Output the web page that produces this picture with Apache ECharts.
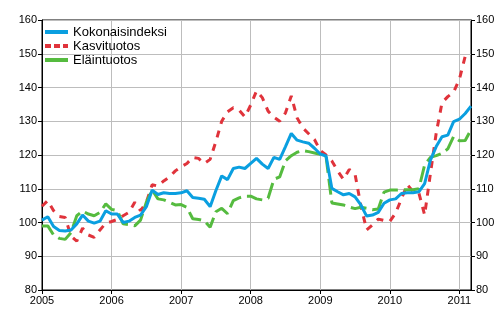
<!DOCTYPE html>
<html><head><meta charset="utf-8">
<script src="https://cdn.jsdelivr.net/npm/echarts@6/dist/echarts.min.js"></script>
<style>html,body{margin:0;padding:0;background:#fff}#c{width:500px;height:330px}</style>
</head><body><div id="c"></div>
<script>
const years = ['2005','2006','2007','2008','2009','2010','2011'];
const monthNames = ['01','02','03','04','05','06','07','08','09','10','11','12'];
const monthCount = 75;
const months = [];
years.forEach(y => monthNames.forEach(m => months.push(y + '-' + m)));
months.length = monthCount;

const seriesNames = ['Kokonaisindeksi', 'Kasvituotos', 'Eläintuotos'];

const kokonaisindeksi = [
 100.7, 101.7, 98.8, 97.6, 97.5, 97.8, 99.6, 102.2, 100.4, 99.8, 100.4, 103.5,
 102.5, 102.5, 100.0, 100.4, 101.5, 102.2, 104.7, 109.6, 108.3, 108.8, 108.6, 108.6,
 108.8, 109.4, 107.4, 107.2, 106.9, 104.7, 109.5, 113.8, 112.7, 116.0, 116.4, 116.0,
 117.5, 119.0, 117.3, 116.0, 119.3, 118.7, 122.5, 126.4, 124.4, 123.9, 123.5, 122.0,
 120.3, 119.7, 110.1, 109.1, 108.2, 108.6, 107.6, 105.2, 101.9, 102.2, 103.0, 105.7,
 106.7, 107.0, 108.6, 108.8, 108.8, 109.1, 111.5, 118.5, 122.5, 125.4, 125.9, 129.9,
 130.6, 132.3, 134.5];

const kasvituotos = [
 104.8, 106.5, 103.5, 101.8, 101.5, 96.0, 94.5, 98.3, 96.3, 95.6, 97.8, 99.8,
 100.3, 100.9, 102.0, 103.0, 106.0, 103.5, 106.0, 111.2, 110.8, 112.3, 113.5, 115.3,
 116.5, 117.5, 119.3, 119.0, 117.5, 118.7, 124.0, 130.0, 132.8, 134.0, 133.3, 131.3,
 134.8, 139.0, 137.0, 133.0, 131.2, 130.0, 132.5, 137.5, 131.0, 128.0, 126.3, 124.6,
 121.3, 120.0, 118.2, 115.3, 112.8, 115.7, 114.3, 105.0, 97.8, 99.3, 101.0, 100.6,
 100.3, 102.8, 107.0, 111.2, 109.2, 108.8, 102.2, 114.5, 126.5, 135.5, 137.3, 138.6,
 142.5, 149.2, 148.6];

const elaintuotos = [
 99.0, 99.0, 96.3, 95.3, 95.0, 97.0, 102.0, 103.4, 102.5, 102.0, 103.0, 105.5,
 103.9, 103.5, 99.6, 99.4, 99.0, 100.7, 106.0, 109.6, 107.0, 106.7, 106.0, 105.2,
 105.3, 104.5, 101.1, 100.9, 100.5, 98.6, 103.2, 104.2, 102.6, 106.5, 107.3, 107.8,
 107.8, 107.0, 106.7, 107.2, 112.8, 113.5, 118.3, 119.8, 120.8, 121.3, 121.0, 120.6,
 120.2, 119.5, 105.8, 105.5, 105.2, 104.6, 104.1, 104.5, 104.2, 103.8, 104.0, 109.0,
 109.6, 109.6, 109.7, 109.7, 109.7, 110.0, 117.0, 119.3, 119.8, 120.5, 121.8, 125.5,
 124.2, 124.3, 127.5];

const yMin = 80, yMax = 160, yStep = 10;

const FONT = '"Liberation Sans", Arial, sans-serif';
const BLUE = '#0a9fe0', RED = '#e0333b', GREEN = '#55bb3f';
const yearTick = (i) => i % 12 === 0;

const chart = echarts.init(document.getElementById('c'), null, {renderer: 'canvas'});
const yAxisBase = (pos) => ({
  type: 'value', min: yMin, max: yMax, interval: yStep, position: pos,
  axisLine: {show: true, lineStyle: {color: '#000', width: 1}},
  axisTick: {show: true, length: 4, lineStyle: {color: '#000'}},
  axisLabel: {fontFamily: FONT, fontSize: 11, color: '#000', margin: 5},
  splitLine: {show: pos === 'left', lineStyle: {color: '#bdbdbd', width: 1}}
});

chart.setOption({
  animation: false,
  grid: {left: 42, right: 29, top: 20, bottom: 40, show: true, borderColor: '#000', borderWidth: 1, backgroundColor: 'transparent'},
  legend: {
    orient: 'vertical', left: 38, top: 20, itemWidth: 23, itemHeight: 14, itemGap: 0,
    itemStyle: {opacity: 0},
    textStyle: {fontFamily: FONT, fontSize: 13, color: '#000', lineHeight: 14},
    data: [
      {name: seriesNames[0], lineStyle: {width: 4, type: 'solid'}},
      {name: seriesNames[1], lineStyle: {width: 4, type: [6, 3]}},
      {name: seriesNames[2], lineStyle: {width: 4, type: 'solid'}}
    ]
  },
  xAxis: {
    type: 'category', data: months, boundaryGap: false,
    axisLine: {lineStyle: {color: '#000', width: 1}},
    axisTick: {show: true, interval: yearTick, length: 4, lineStyle: {color: '#000'}},
    axisLabel: {interval: yearTick, formatter: v => v.slice(0, 4), fontFamily: FONT, fontSize: 11, color: '#000', margin: 5},
    splitLine: {show: true, interval: yearTick, lineStyle: {color: '#bdbdbd', width: 1}}
  },
  yAxis: [yAxisBase('left'), yAxisBase('right')],
  series: [
    {name: seriesNames[1], type: 'line', data: kasvituotos, symbol: 'none', color: RED,
     lineStyle: {width: 3, color: RED, type: [7, 7]}},
    {name: seriesNames[2], type: 'line', data: elaintuotos, symbol: 'none', color: GREEN,
     lineStyle: {width: 3, color: GREEN, type: [16, 6]}},
    {name: seriesNames[0], type: 'line', data: kokonaisindeksi, symbol: 'none', color: BLUE,
     lineStyle: {width: 3, color: BLUE}}
  ]
});
</script></body></html>
